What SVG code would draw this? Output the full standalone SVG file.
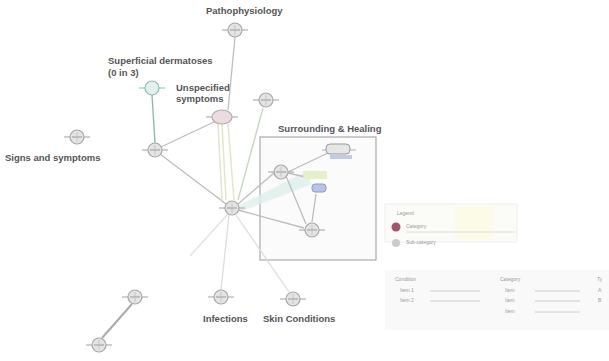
<svg xmlns="http://www.w3.org/2000/svg" width="609" height="361" viewBox="0 0 609 361">
<style>
.lbl{font-family:"Liberation Sans",Arial,sans-serif;font-size:9.5px;font-weight:bold;fill:#555}
.sm{font-family:"Liberation Sans",Arial,sans-serif;font-size:5px;fill:#999}
.nd{fill:#e4e4e4;stroke:#a8a8a8;stroke-width:1.2}
.bar{stroke:#b0b0b0;stroke-width:1.2}
.e{fill:none;stroke:#bdbdbd;stroke-width:1.3}
</style>
<defs>
<g id="n"><line class="bar" x1="-13" y1="0" x2="13" y2="0"/><circle class="nd" r="7"/><line x1="-5" y1="0" x2="5" y2="0" stroke="#999" stroke-width="1"/><line x1="0" y1="-5" x2="0" y2="5" stroke="#bbb" stroke-width="0.8"/></g>
</defs>
<rect width="609" height="361" fill="#fff"/>
<g id="group-box">
<rect x="260" y="137" width="116" height="123" fill="#fbfbfb" stroke="#aaa" stroke-width="1.2"/>
<text class="lbl" x="278" y="132">Surrounding &amp; Healing</text>
</g>
<g id="connectors">
<line class="e" x1="235" y1="37" x2="228" y2="110"/>
<line x1="152" y1="95" x2="155" y2="143" stroke="#8fb8b0" stroke-width="1.4"/>
<line class="e" x1="161" y1="147" x2="216" y2="121"/>
<line class="e" x1="160" y1="154" x2="226" y2="204"/>
<path d="M222 124 L226 200 M228 124 L234 200 M218 124 L222 200" stroke="#dfe8c8" stroke-width="1.5" fill="none"/>
<line x1="263" y1="108" x2="238" y2="200" stroke="#c8d8c0" stroke-width="1.4"/>
<line class="e" x1="238" y1="204" x2="274" y2="173"/>
<path d="M238 206 L305 172 L312 184 L240 212 Z" fill="#dff0ec" opacity="0.8"/>
<line class="e" x1="238" y1="210" x2="304" y2="228"/>
<line class="e" x1="288" y1="172" x2="330" y2="152"/>
<line class="e" x1="288" y1="173" x2="310" y2="178"/>
<line class="e" x1="316" y1="194" x2="312" y2="222"/>
<line class="e" x1="286" y1="176" x2="306" y2="224"/>
<line x1="228" y1="214" x2="190" y2="256" stroke="#e2e2e2" stroke-width="1.3"/>
<line x1="132" y1="304" x2="102" y2="338" stroke="#aaa" stroke-width="2"/>
<line x1="229" y1="215" x2="221" y2="290" stroke="#ddd" stroke-width="1.3"/>
<line x1="236" y1="215" x2="289" y2="292" stroke="#ddd" stroke-width="1.3"/>
</g>
<g id="n-path"><use href="#n" x="235" y="30"/><text class="lbl" x="206" y="14">Pathophysiology</text></g>
<g id="n-super"><line x1="139" y1="88" x2="165" y2="88" stroke="#9cc" stroke-width="1.2"/><circle cx="152" cy="88" r="7" fill="#e3f1ee" stroke="#8bbdb3" stroke-width="1.2"/><text class="lbl" x="108" y="64">Superficial dermatoses</text><text class="lbl" x="108" y="76">(0 in 3)</text></g>
<g id="n-unspec"><line class="bar" x1="206" y1="117" x2="238" y2="117"/><ellipse cx="222" cy="117" rx="10" ry="7" fill="#eadce0" stroke="#b9a7ad" stroke-width="1.2"/><text class="lbl" x="176" y="91">Unspecified</text><text class="lbl" x="176" y="102">symptoms</text></g>
<g id="n-d"><use href="#n" x="266" y="100"/></g>
<g id="n-signs"><use href="#n" x="77" y="137"/><text class="lbl" x="5" y="161">Signs and symptoms</text></g>
<g id="n-f"><use href="#n" x="155" y="150"/></g>
<g id="n-center"><use href="#n" x="232" y="208"/></g>
<g id="n-h"><use href="#n" x="281" y="172"/></g>
<g id="n-i"><line class="bar" x1="322" y1="150" x2="356" y2="150"/><rect x="326" y="144" width="24" height="10" rx="4" fill="#e6e6e6" stroke="#999"/><rect x="330" y="155" width="22" height="4" fill="#c2cbe8"/></g>
<g id="n-j"><rect x="303" y="171" width="24" height="8" fill="#e6f0c8"/><rect x="312" y="184" width="14" height="8" rx="3" fill="#b8c4e6" stroke="#8a9acb"/></g>
<g id="n-l"><use href="#n" x="312" y="230"/></g>
<g id="n-m"><use href="#n" x="135" y="297"/></g>
<g id="n-n"><use href="#n" x="99" y="345"/></g>
<g id="n-inf"><use href="#n" x="221" y="297"/><text class="lbl" x="203" y="322">Infections</text></g>
<g id="n-skin"><use href="#n" x="293" y="299"/><text class="lbl" x="263" y="322">Skin Conditions</text></g>
<g id="legend">
<rect x="385" y="204" width="132" height="38" fill="#fbfbf7" stroke="#eee"/>
<rect x="455" y="206" width="38" height="34" fill="#fbfbe8"/>
<text class="sm" x="397" y="215" fill="#d88">Legend</text>
<circle cx="396" cy="227" r="4.5" fill="#a05868"/>
<text class="sm" x="406" y="228">Category</text>
<line x1="406" y1="232" x2="515" y2="232" stroke="#ddd"/>
<circle cx="396" cy="243" r="4" fill="#ccc"/>
<text class="sm" x="406" y="244">Sub-category</text>
</g>
<g id="table">
<rect x="385" y="270" width="224" height="60" fill="#f9f9f9"/>
<text class="sm" x="395" y="281">Condition</text>
<text class="sm" x="400" y="292">Item 1</text><line x1="430" y1="291" x2="480" y2="291" stroke="#ccc"/>
<text class="sm" x="400" y="302">Item 2</text><line x1="430" y1="301" x2="480" y2="301" stroke="#ccc"/>
<text class="sm" x="500" y="281">Category</text>
<text class="sm" x="505" y="292">Item</text><line x1="535" y1="291" x2="580" y2="291" stroke="#ccc"/>
<text class="sm" x="505" y="302">Item</text><line x1="535" y1="301" x2="580" y2="301" stroke="#ccc"/>
<text class="sm" x="505" y="313">Item</text><line x1="535" y1="312" x2="580" y2="312" stroke="#ccc"/>
<text class="sm" x="597" y="281">Ty</text>
<text class="sm" x="598" y="292">A</text><text class="sm" x="598" y="302">B</text>
</g>
</svg>
